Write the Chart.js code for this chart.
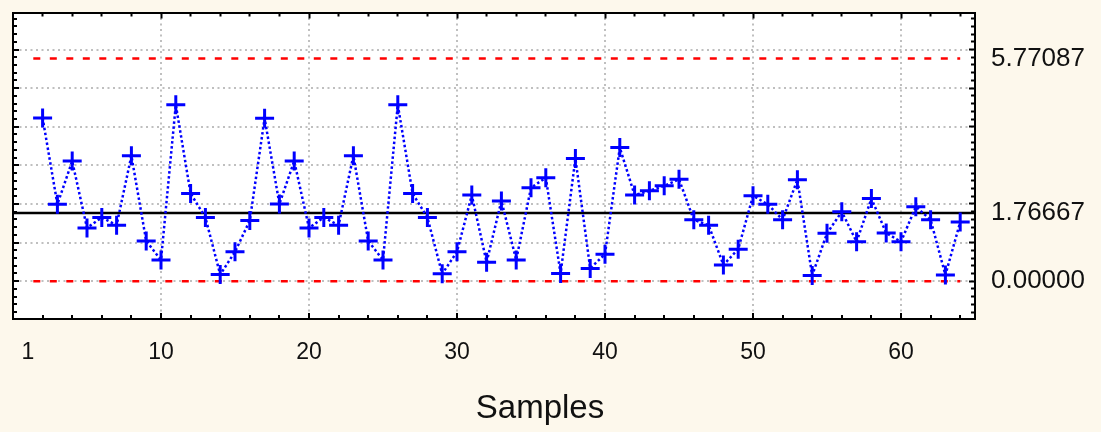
<!DOCTYPE html>
<html>
<head>
<meta charset="utf-8">
<script src="https://cdn.jsdelivr.net/npm/chart.js@4.4.1/dist/chart.umd.min.js"></script>
<style>
  html, body { margin: 0; padding: 0; background: #fdf8ec; }
  #wrap { width: 1101px; height: 432px; position: relative; }
</style>
</head>
<body>
<div id="wrap"><canvas id="c" width="1101" height="432"></canvas></div>
<script>
// ---------------- data ----------------
const sampleNumbers = [2, 3, 4, 5, 6, 7, 8, 9, 10, 11, 12, 13, 14, 15, 16, 17, 18, 19, 20, 21,
  22, 23, 24, 25, 26, 27, 28, 29, 30, 31, 32, 33, 34, 35, 36, 37, 38, 39, 40, 41, 42, 43,
  44, 45, 46, 47, 48, 49, 50, 51, 52, 53, 54, 55, 56, 57, 58, 59, 60, 61, 62, 63, 64];
const movingRanges = [4.23, 1.99, 3.11, 1.38, 1.65, 1.45, 3.25, 1.04, 0.55, 4.57, 2.27, 1.65,
  0.17, 0.76, 1.57, 4.22, 2.00, 3.11, 1.38, 1.65, 1.45, 3.25, 1.04, 0.55, 4.57, 2.27, 1.65,
  0.19, 0.76, 2.23, 0.49, 2.08, 0.55, 2.42, 2.68, 0.20, 3.18, 0.33, 0.70, 3.46, 2.23, 2.34,
  2.47, 2.64, 1.59, 1.45, 0.42, 0.83, 2.21, 1.99, 1.59, 2.63, 0.15, 1.24, 1.80, 1.02, 2.14,
  1.25, 1.02, 1.93, 1.59, 0.16, 1.53];
const upperLimit = 5.77087;
const centerLine = 1.76667;
const lowerLimit = 0.0;
const limitTickLabels = [upperLimit, centerLine, lowerLimit];
const xTickLabels = [1, 10, 20, 30, 40, 50, 60];
const limitFrom = 1;
const limitTo = 64;
const xAxisTitle = 'Samples';
const xRange = [0, 65];
const yRange = [-0.98, 6.96];

// ---------------- tick positions (axis decoration) ----------------
const yMinorTicks = [];
for (let k = -4; k <= 34; k++) yMinorTicks.push(Math.round(k * 2) / 10);
const xMinorTicks = [];
for (let s = 2; s <= 64; s += 2) xMinorTicks.push(s);
const xBottomTicks = [...new Set([xTickLabels[0], ...xMinorTicks])].sort((a, b) => a - b);
const yRightTicks = [...yMinorTicks];
limitTickLabels.forEach(v => { if (!yRightTicks.some(t => Math.abs(t - v) < 1e-9)) yRightTicks.push(v); });
yRightTicks.sort((a, b) => a - b);

const CLEAR = 'rgba(0,0,0,0)';
const GRID = '#bfbfbf';
const isInt = v => Math.abs(v - Math.round(v)) < 1e-6;
const isTen = v => isInt(v) && Math.round(v) % 10 === 0;
const isLimit = v => limitTickLabels.some(l => Math.abs(l - v) < 1e-9);
const tv = c => (c && c.tick) ? c.tick.value : NaN;
const setTicks = arr => scale => { scale.ticks = arr.map(v => ({ value: v })); };
const fixSize = (w, h) => scale => {
  if (w !== null) scale.width = w;
  if (h !== null) scale.height = h;
  scale.paddingTop = 0; scale.paddingBottom = 0;
  scale.paddingLeft = 0; scale.paddingRight = 0;
};

Chart.defaults.font.family = "'Liberation Sans', Arial, sans-serif";

const bgPlugin = {
  id: 'bg',
  beforeDraw(chart) {
    const { ctx, chartArea: a } = chart;
    ctx.save();
    ctx.fillStyle = '#fdf8ec';
    ctx.fillRect(0, 0, chart.width, chart.height);
    ctx.fillStyle = '#ffffff';
    ctx.fillRect(a.left, a.top, a.right - a.left, a.bottom - a.top);
    ctx.restore();
  }
};

new Chart(document.getElementById('c'), {
  type: 'scatter',
  data: {
    datasets: [
      {
        label: 'Moving range',
        data: sampleNumbers.map((s, i) => ({ x: s, y: movingRanges[i] })),
        xAxisID: 'x', yAxisID: 'y',
        showLine: true,
        borderColor: '#0000ff',
        borderWidth: 2.5,
        borderDash: [2.5, 2.5],
        tension: 0,
        pointStyle: 'cross',
        pointRadius: 9.5,
        pointBorderWidth: 3,
        pointBorderColor: '#0000ff',
        pointBackgroundColor: '#0000ff'
      },
      {
        label: 'CL',
        data: [{ x: xRange[0], y: centerLine }, { x: xRange[1], y: centerLine }],
        xAxisID: 'x', yAxisID: 'y',
        showLine: true, borderColor: '#000000', borderWidth: 2.5, pointRadius: 0
      },
      {
        label: 'UCL',
        data: [{ x: limitFrom, y: upperLimit }, { x: limitTo, y: upperLimit }],
        xAxisID: 'x', yAxisID: 'y',
        showLine: true, borderColor: '#ff0000', borderWidth: 2.5,
        borderDash: [7, 9.5], borderDashOffset: 11, pointRadius: 0
      },
      {
        label: 'LCL',
        data: [{ x: limitFrom, y: lowerLimit }, { x: limitTo, y: lowerLimit }],
        xAxisID: 'x', yAxisID: 'y',
        showLine: true, borderColor: '#ff0000', borderWidth: 2.5,
        borderDash: [7, 9.5], borderDashOffset: 11, pointRadius: 0
      }
    ]
  },
  options: {
    responsive: false,
    devicePixelRatio: 1,
    animation: false,
    events: [],
    layout: { padding: { left: -16, top: 0, right: 5, bottom: 0 } },
    plugins: {
      legend: { display: false },
      tooltip: { enabled: false },
      title: {
        display: true,
        text: xAxisTitle,
        position: 'bottom',
        color: '#111111',
        font: { size: 33, weight: 'normal' },
        padding: { top: 0, bottom: 3.7 }
      }
    },
    scales: {
      x: {
        type: 'linear', axis: 'x', position: 'bottom',
        min: xRange[0], max: xRange[1],
        afterBuildTicks: setTicks(xBottomTicks),
        afterFit: fixSize(null, 69.7),
        ticks: {
          autoSkip: false, maxRotation: 0, minRotation: 0, padding: 26,
          color: '#111111', font: { size: 23 },
          callback: v => xTickLabels.includes(v) ? String(v) : ''
        },
        grid: {
          color: c => isTen(tv(c)) ? GRID : CLEAR,
          lineWidth: 2,
          tickLength: -6,
          tickWidth: 2,
          tickColor: c => xTickLabels[0] === tv(c) ? CLEAR : '#000000',
          tickBorderDash: c => isTen(tv(c)) ? [] : [5, 100]
        },
        border: { color: '#000000', width: 2, dash: [2, 3.5] }
      },
      xT: {
        type: 'linear', axis: 'x', position: 'top',
        min: xRange[0], max: xRange[1],
        afterBuildTicks: setTicks(xMinorTicks),
        afterFit: fixSize(null, 8),
        ticks: { display: false },
        grid: {
          drawOnChartArea: false,
          color: '#000000',
          tickLength: -6,
          tickWidth: 2,
          tickColor: '#000000',
          tickBorderDash: c => isTen(tv(c)) ? [] : [0, 2, 12, 100]
        },
        border: { color: '#000000', width: 2 }
      },
      y: {
        type: 'linear', axis: 'y', position: 'left',
        min: yRange[0], max: yRange[1],
        afterBuildTicks: setTicks(yMinorTicks),
        afterFit: fixSize(29, null),
        ticks: { display: false },
        grid: {
          color: c => isInt(tv(c)) ? GRID : CLEAR,
          lineWidth: 2,
          tickLength: -6,
          tickWidth: 2,
          tickColor: '#000000',
          tickBorderDash: c => isInt(tv(c)) ? [] : [0, 2, 12, 100]
        },
        border: { color: '#000000', width: 2, dash: [2, 3.5] }
      },
      yR: {
        type: 'linear', axis: 'y', position: 'right',
        min: yRange[0], max: yRange[1],
        afterBuildTicks: setTicks(yRightTicks),
        afterFit: fixSize(121, null),
        ticks: {
          autoSkip: false, padding: 22,
          color: '#111111', font: { size: 26 },
          callback: v => isLimit(v) ? v.toFixed(5) : ''
        },
        grid: {
          drawOnChartArea: false,
          color: '#000000',
          tickLength: -6,
          tickWidth: 2,
          tickColor: c => (isLimit(tv(c)) && !isInt(tv(c))) ? CLEAR : '#000000',
          tickBorderDash: c => isInt(tv(c)) ? [] : [5, 100]
        },
        border: { color: '#000000', width: 2 }
      }
    }
  },
  plugins: [bgPlugin]
});
</script>
</body>
</html>
